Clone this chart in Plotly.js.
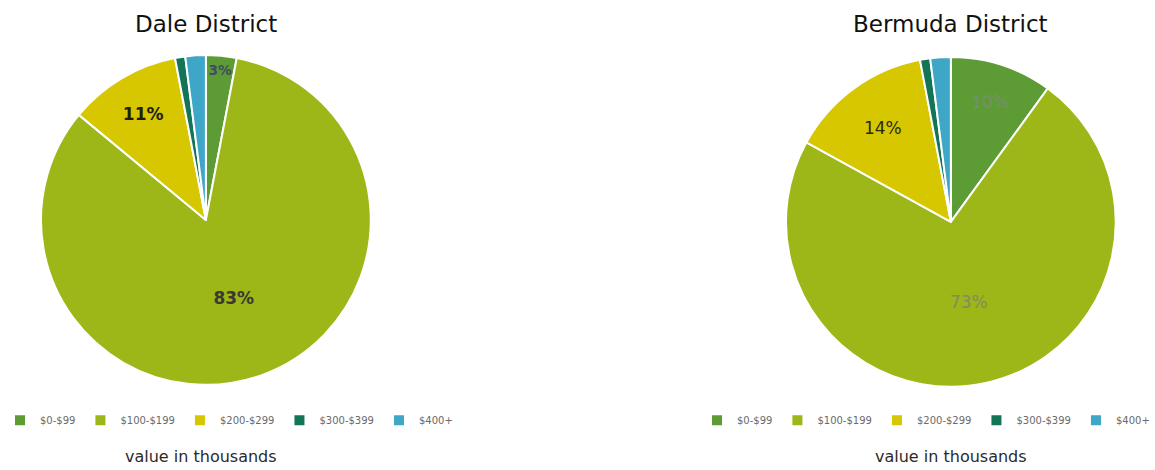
<!DOCTYPE html>
<html>
<head>
<meta charset="utf-8">
<script src="https://cdn.plot.ly/plotly-3.0.1.min.js"></script>
<style>
  html, body { margin: 0; padding: 0; background: #ffffff; }
  #chart { width: 1155px; height: 470px; }
</style>
</head>
<body>
<div id="chart"></div>
<script>
// ---- data ----
const categories = ['$0-$99', '$100-$199', '$200-$299', '$300-$399', '$400+'];
const daleValues = [3, 83, 11, 1, 2];
const bermudaValues = [10, 73, 14, 1, 2];
const chartTitles = ['Dale District', 'Bermuda District'];
const subtitle = 'value in thousands';

// ---- style ----
const sliceColors = ['#5d9b35', '#9db618', '#d6c700', '#137558', '#3ea6c6'];
const FONT = 'DejaVu Sans, Arial, sans-serif';
const daleTextColors = ['#3d4d63', '#3a3a30', '#1e1e10', '#000', '#000'];
const bermudaTextColors = ['#77906a', '#7f8e5e', '#2a2a10', '#000', '#000'];
const textPos = ['inside', 'inside', 'inside', 'none', 'none'];

function pct(vals) {
  return vals.map(v => v + '%');
}

const common = {
  type: 'pie',
  labels: categories,
  sort: false,
  direction: 'clockwise',
  rotation: 0,
  textinfo: 'text',
  textposition: textPos,
  insidetextorientation: 'horizontal',
  marker: { colors: sliceColors, line: { color: '#ffffff', width: 2 } },
  hoverinfo: 'label+percent'
};

const dale = Object.assign({}, common, {
  values: daleValues,
  text: pct(daleValues),
  textfont: { family: FONT, size: 17, color: daleTextColors, weight: 'bold' },
  domain: { x: [0.0355, 0.321], y: [0.181, 0.883] },
  legend: 'legend',
  legendgroup: 'dale'
});

const bermuda = Object.assign({}, common, {
  values: bermudaValues,
  text: pct(bermudaValues),
  textfont: { family: FONT, size: 17, color: bermudaTextColors },
  domain: { x: [0.6805, 0.966], y: [0.177, 0.879] },
  legend: 'legend2',
  legendgroup: 'bermuda'
});

const legendCommon = {
  orientation: 'h',
  yanchor: 'middle',
  y: 0.106,
  font: { family: FONT, size: 10, color: '#6a6a6a' },
  itemwidth: 30,
  traceorder: 'normal',
  bgcolor: 'rgba(0,0,0,0)'
};

const layout = {
  width: 1155,
  height: 470,
  margin: { l: 0, r: 0, t: 0, b: 0, autoexpand: false },
  paper_bgcolor: '#ffffff',
  showlegend: true,
  legend: Object.assign({}, legendCommon, { x: 0.0, xanchor: 'left' }),
  legend2: Object.assign({}, legendCommon, { x: 1.0, xanchor: 'right' }),
  annotations: [
    { text: chartTitles[0], x: 0.178, y: 0.949, xref: 'paper', yref: 'paper', xanchor: 'center', yanchor: 'middle', showarrow: false,
      font: { family: FONT, size: 23, color: '#111111' } },
    { text: chartTitles[1], x: 0.823, y: 0.949, xref: 'paper', yref: 'paper', xanchor: 'center', yanchor: 'middle', showarrow: false,
      font: { family: FONT, size: 23, color: '#111111' } },
    { text: subtitle, x: 0.174, y: 0.028, xref: 'paper', yref: 'paper', xanchor: 'center', yanchor: 'middle', showarrow: false,
      font: { family: FONT, size: 16, color: '#2a2a2a' } },
    { text: subtitle, x: 0.823, y: 0.028, xref: 'paper', yref: 'paper', xanchor: 'center', yanchor: 'middle', showarrow: false,
      font: { family: FONT, size: 16, color: '#2a2a2a' } }
  ]
};

Plotly.newPlot('chart', [dale, bermuda], layout, { displayModeBar: false, staticPlot: true });
</script>
</body>
</html>
